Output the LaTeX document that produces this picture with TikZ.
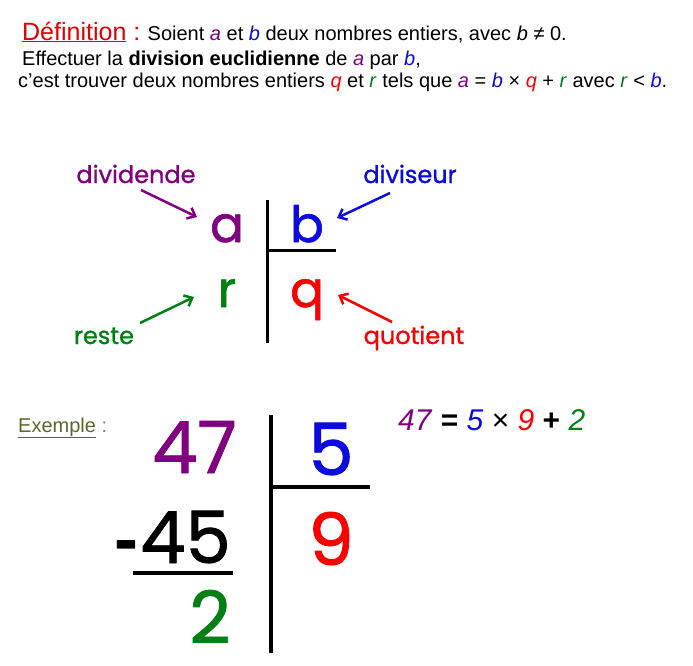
\documentclass[tikz,border=0pt]{standalone}
\usepackage{fontspec}
\setmainfont{Liberation Sans}
\newfontfamily\comic{Poppins}[FakeBold=1.2]
\usetikzlibrary{arrows.meta}
\definecolor{mauve}{RGB}{128,0,128}
\definecolor{bleu}{RGB}{10,10,225}
\definecolor{rouge}{RGB}{250,0,0}
\definecolor{vert}{RGB}{0,128,20}
\definecolor{olive}{RGB}{88,104,45}
\definecolor{rougedef}{RGB}{225,0,0}
\newcommand{\lettreA}{\textcolor{mauve}{\textit{a}}}
\newcommand{\lettreB}{\textcolor{bleu}{\textit{b}}}
\newcommand{\lettreQ}{\textcolor{rouge}{\textit{q}}}
\newcommand{\lettreR}{\textcolor{vert}{\textit{r}}}
\tikzset{
    txt/.style={inner sep=0pt,anchor=base west,font=\fontsize{20}{20}\selectfont},
    lettre/.style={inner sep=0pt,anchor=base,font=\comic\fontsize{50}{50}\selectfont},
    etiquette/.style={inner sep=0pt,anchor=base,font=\comic\fontsize{24}{24}\selectfont},
    chiffre/.style={inner sep=0pt,text depth=0pt,font=\comic\fontsize{72}{72}\selectfont},
    fleche/.style={line width=2.5pt,-{Straight Barb[length=7pt,width=12pt]}},
    trait/.style={line width=3pt}
}
\begin{document}
\begin{tikzpicture}[x=1pt,y=-1pt]
\useasboundingbox (0,0) rectangle (693,665);

% definition
\node[txt] (ligne1) at (22,40) {{\fontsize{25}{25}\selectfont\color{rougedef}\underline{Définition} :} Soient \lettreA{} et \lettreB{} deux nombres entiers, avec \textit{b} ≠ 0.};
\node[txt] (ligne2) at (22,65) {Effectuer la \textbf{division euclidienne} de \lettreA{} par \lettreB,};
\node[txt] (ligne3) at (18,87) {c'est trouver deux nombres entiers \lettreQ{} et \lettreR{} tels que \lettreA{} = \lettreB{} × \lettreQ{} + \lettreR{} avec \lettreR{} < \lettreB.};

% schema general
\draw[trait] (267,200)--(267,343);
\draw[trait] (267,250)--(336,250);
\node[lettre,text=mauve] (a) at (227,242) {a};
\node[lettre,text=bleu] (b) at (307,242) {b};
\node[lettre,text=vert] (r) at (227,307) {r};
\node[lettre,text=rouge] (q) at (307,307) {q};

\node[etiquette,text=mauve] (dividende) at (136,183) {dividende};
\node[etiquette,text=bleu] (diviseur) at (410,183) {diviseur};
\node[etiquette,text=vert] (reste) at (104,344) {reste};
\node[etiquette,text=rouge] (quotient) at (414,344) {quotient};

\draw[fleche,mauve] ([shift={(5,7)}]dividende.base)--([shift={(-30,-25)}]a.base);
\draw[fleche,bleu] ([shift={(-20,10)}]diviseur.base)--([shift={(30,-24)}]b.base);
\draw[fleche,vert] ([shift={(36,-21)}]reste.base)--([shift={(-33,-10)}]r.base);
\draw[fleche,rouge] ([shift={(-22,-22)}]quotient.base)--([shift={(31,-12)}]q.base);

% exemple
\node[txt] (exemple) at (18,432) {\textcolor{olive}{\underline{Exemple}} \textcolor{gray}{:}};
\draw[line width=4pt] (271,415)--(271,653);
\draw[line width=4pt] (271,487)--(370,487);
\draw[line width=3.5pt] (133,573)--(233,573);
\node[chiffre,anchor=base east,text=mauve] (n47) at (237,473) {47};
\node[chiffre,anchor=base,text=bleu] (n5) at (331,475) {5};
\node[chiffre,anchor=base east] (n45) at (231,563) {{\normalfont\bfseries -}\kern2pt45};
\node[chiffre,anchor=base,text=rouge] (n9) at (331,565) {9};
\node[chiffre,anchor=base east,text=vert] (n2) at (231,643) {2};

\node[txt,font=\fontsize{30}{30}\selectfont] (egalite) at (398,430) {\textcolor{mauve}{\textit{47}} \textbf{=} \textcolor{bleu}{\textit{5}} × \textcolor{rouge}{\textit{9}} \textbf{+} \textcolor{vert}{\textit{2}}};
\end{tikzpicture}
\end{document}
